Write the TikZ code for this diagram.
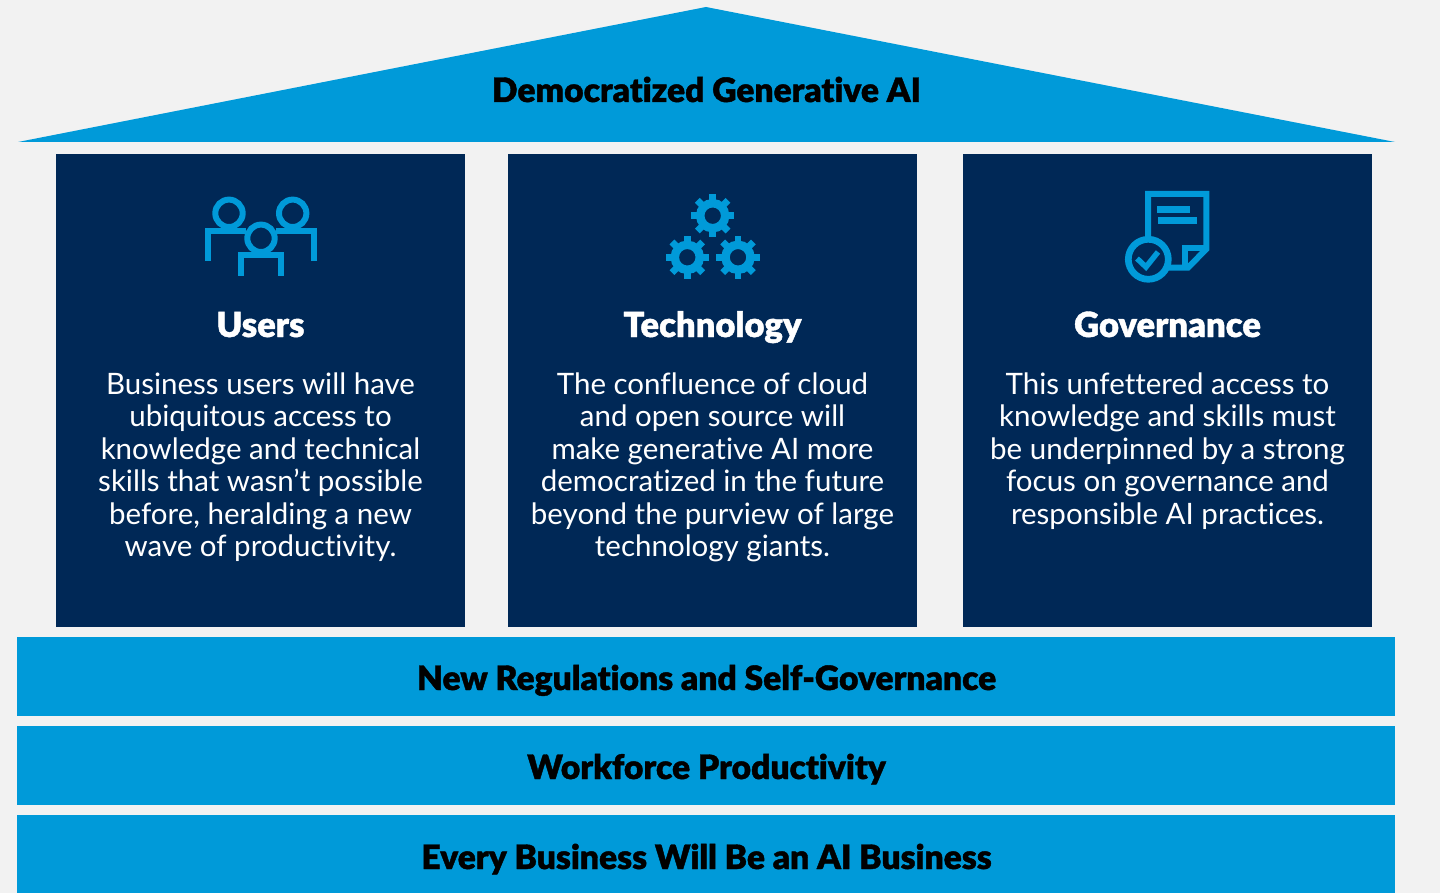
\documentclass[tikz,border=0pt]{standalone}
\usepackage{fontspec}
\setmainfont{Lato}[Ligatures={NoCommon}]
\newfontfamily\headfont{Lato Black}[Ligatures={NoCommon},FakeBold=1.2]
\usetikzlibrary{positioning}
\definecolor{roofblue}{HTML}{009AD9}
\definecolor{cardnavy}{HTML}{002856}
\definecolor{pagegrey}{HTML}{F2F2F2}

\begin{document}
\begin{tikzpicture}[
            x = 1pt,
            y = -1pt,
            bar/.style = {fill = roofblue, minimum width = 1378pt, minimum height = 79pt, inner sep = 0pt},
            bartext/.style = {anchor = base, inner sep = 0pt, text = black,
                font = \headfont\fontsize{33.6}{38}\selectfont},
            card/.style = {fill = cardnavy, minimum width = 409pt, minimum height = 473pt, inner sep = 0pt},
            cardtitle/.style = {text = white, anchor = base, inner sep = 0pt,
                font = \headfont\fontsize{34.6}{38}\selectfont},
            cardtext/.style = {text = white, align = center, anchor = north, inner sep = 0pt,
                font = \fontsize{29.5}{32.4}\selectfont},
            iconline/.style = {draw = roofblue, line width = 6pt},
            gearshape/.pic = {
                \foreach \a in {0,45,...,315}
                    \fill[roofblue, rotate = \a] (-3.4,-21.7) rectangle (3.4,0);
                \draw[roofblue, line width = 8.4pt, fill = cardnavy] (0,0) circle (12.5pt);
            }
        ]

        \fill[pagegrey] (0,0) rectangle (1440,893);
        \useasboundingbox (0,0) rectangle (1440,893);

        % roof
        \fill[roofblue] (706,7) -- (1395,142) -- (18,142) -- cycle;
        \node (roof) [bartext] at (706.5,102) {Democratized Generative AI};

        % cards
        \node (users) [card] at (260.5,390.5) {};
        \node (tech) [card] at (712.5,390.5) {};
        \node (gov) [card] at (1167.5,390.5) {};

        \node (userstitle) [cardtitle] at (260.5,337) {Users};
        \node (techtitle) [cardtitle] at (712.5,337) {Technology};
        \node (govtitle) [cardtitle] at (1167.5,337) {Governance};

        \node (userstext) [cardtext] at (260.5,372.6) {Business users will have\\ubiquitous access to\\knowledge and technical\\skills that wasn’t possible\\before, heralding a new\\wave of productivity.};
        \node (techtext) [cardtext] at (712.5,372.6) {The confluence of cloud\\and open source will\\make generative AI more\\democratized in the future\\beyond the purview of large\\technology giants.};
        \node (govtext) [cardtext] at (1167.5,372.6) {This unfettered access to\\knowledge and skills must\\be underpinned by a strong\\focus on governance and\\responsible AI practices.};

        % users icon
        \draw[iconline] (229,213.3) circle (13.7pt);
        \draw[iconline] (292.7,213.3) circle (13.7pt);
        \draw[iconline] (207.7,261) -- (207.7,230.7) -- (246,230.7);
        \draw[iconline] (314,261) -- (314,230.7) -- (276,230.7);
        \draw[iconline] (240.7,276) -- (240.7,255) -- (280.7,255) -- (280.7,276);
        \draw[iconline] (261,238.3) circle (13.7pt);

        % technology icon
        \pic at (712.7,215.7) {gearshape};
        \pic at (687.3,257.3) {gearshape};
        \pic at (738,257.3) {gearshape};

        % governance icon
        \draw[iconline, miter limit = 10] (1148,240) -- (1148,194) -- (1206.3,194) -- (1206.3,249) -- (1188,267.7) -- (1165,267.7);
        \draw[iconline] (1185,267.7) -- (1185,248) -- (1206.3,248);
        \fill[roofblue] (1157,206) rectangle (1190,213.3);
        \fill[roofblue] (1158,217) rectangle (1197,224);
        \draw[iconline, line width = 6.7pt, fill = cardnavy] (1148.3,259.3) circle (20pt);
        \draw[iconline, line width = 5.5pt] (1137,258.5) -- (1146,267) -- (1158,252);

        % bars
        \node (rules) [bar] at (706,676.5) {};
        \node (work) [bar] at (706,765.5) {};
        \node (every) [bar, minimum height = 78pt] at (706,854) {};
        \node (rulestext) [bartext] at (706.5,690) {New Regulations and Self-Governance};
        \node (worktext) [bartext] at (706.5,779) {Workforce Productivity};
        \node (everytext) [bartext] at (706.5,869) {Every Business Will Be an AI Business};

    \end{tikzpicture}
\end{document}
